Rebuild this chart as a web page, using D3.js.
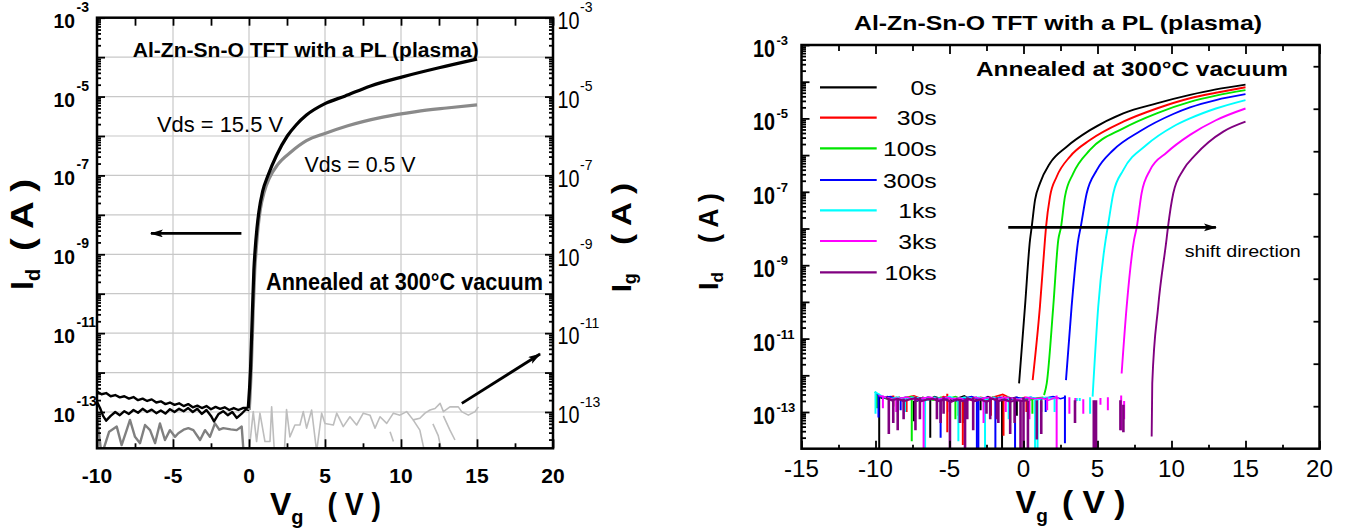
<!DOCTYPE html>
<html>
<head>
<meta charset="utf-8">
<script src="https://cdn.jsdelivr.net/npm/d3@7"></script>
<style>
  body { margin: 0; background: #fff; }
  text { font-family: "Liberation Sans", Arial, sans-serif; }
</style>
</head>
<body>
<svg id="chart" width="1353" height="529"></svg>
<script>
// ---------- data (Vg in volts, currents stored as log10 of amperes) ----------

// left panel: Id / Ig of the AZTO TFT
const idOn155 = [[-0.05,-12.9],[0.1,-11.9],[0.22,-10.5],[0.32,-9.4],[0.4,-8.9],[0.52,-8.35],[0.65,-7.92],[0.9,-7.4],[1.26,-6.99],[1.8,-6.5],[2.52,-6.0],[3.1,-5.72],[3.78,-5.47],[5.0,-5.18],[6.3,-4.99],[8.0,-4.73],[10.1,-4.5],[12.5,-4.27],[15,-4.05]];
const idOn05 = [[0.02,-12.95],[0.15,-11.9],[0.27,-10.5],[0.38,-9.4],[0.47,-8.9],[0.6,-8.3],[0.75,-7.85],[1.0,-7.42],[1.35,-7.06],[1.9,-6.72],[2.78,-6.4],[3.78,-6.12],[5.04,-5.93],[6.5,-5.74],[8.8,-5.52],[11,-5.38],[13,-5.29],[15,-5.21]];
const idOff155 = [[-10,-12.48],[-9.7,-12.55],[-9.4,-12.52],[-9.1,-12.6],[-8.8,-12.57],[-8.5,-12.63],[-8.2,-12.6],[-7.9,-12.66],[-7.6,-12.62],[-7.3,-12.7],[-7.0,-12.66],[-6.7,-12.72],[-6.4,-12.68],[-6.1,-12.76],[-5.8,-12.73],[-5.5,-12.8],[-5.2,-12.76],[-4.9,-12.82],[-4.6,-12.78],[-4.3,-12.85],[-4.0,-12.8],[-3.7,-12.88],[-3.4,-12.84],[-3.1,-12.9],[-2.8,-12.85],[-2.5,-12.93],[-2.2,-12.87],[-1.9,-12.92],[-1.6,-12.88],[-1.3,-12.95],[-1.0,-12.9],[-0.7,-12.95],[-0.4,-12.9],[-0.05,-12.9]];
const idOff05 = [[-10,-12.74],[-9.8,-12.9],[-9.6,-13.1],[-9.4,-13.22],[-9.1,-13.1],[-8.8,-13.0],[-8.5,-13.08],[-8.2,-12.98],[-7.9,-13.05],[-7.6,-12.95],[-7.3,-13.02],[-7.0,-12.92],[-6.7,-13.0],[-6.4,-12.94],[-6.1,-13.03],[-5.8,-12.96],[-5.5,-13.04],[-5.2,-12.93],[-4.9,-13.0],[-4.6,-12.92],[-4.3,-12.98],[-4.0,-12.9],[-3.7,-13.0],[-3.4,-12.92],[-3.1,-13.05],[-2.8,-12.95],[-2.5,-13.1],[-2.3,-13.24],[-2.0,-13.05],[-1.7,-12.98],[-1.4,-13.08],[-1.1,-13.0],[-0.8,-13.15],[-0.5,-13.05],[-0.2,-12.93],[0.02,-12.95]];
const igDark = [[-10,-13.15],[-9.85,-13.6],[-9.7,-14.1],[-9.2,-13.5],[-8.7,-13.37],[-8.38,-13.84],[-8.05,-13.46],[-7.83,-13.2],[-7.5,-13.63],[-7.17,-13.79],[-6.84,-13.33],[-6.51,-13.46],[-6.18,-13.79],[-5.86,-13.29],[-5.53,-13.71],[-5.2,-13.46],[-4.87,-13.63],[-4.65,-13.54],[-4.3,-13.45],[-3.99,-13.41],[-3.66,-13.46],[-3.22,-13.71],[-2.89,-13.46],[-2.57,-13.63],[-2.24,-13.29],[-1.95,-13.45],[-1.69,-13.41],[-1.2,-13.44],[-0.81,-13.46],[-0.48,-13.37],[-0.37,-13.95],[-0.2,-14.2]];
const igLight = [[-0.05,-14.2],[0.28,-12.99],[0.5,-13.75],[0.72,-13.03],[1.05,-13.75],[1.38,-13.75],[1.49,-12.87],[1.7,-14.2],[2.3,-14.2],[2.47,-12.94],[2.69,-13.63],[3.02,-13.33],[3.35,-13.33],[3.57,-12.99],[3.79,-13.41],[4.12,-12.95],[4.45,-14.0],[4.78,-13.03],[5.0,-13.29],[5.55,-13.33],[5.77,-13.03],[6.2,-13.37],[6.64,-13.12],[7.08,-13.33],[7.52,-13.03],[7.96,-13.08],[8.29,-13.41],[8.62,-13.12],[9.06,-13.29],[9.5,-13.03],[9.93,-13.08],[10.37,-12.99],[10.8,-13.2],[11.24,-13.16],[11.58,-13.03],[11.91,-12.95],[12.24,-12.91],[12.57,-12.78],[12.79,-12.99],[13.22,-12.87],[13.77,-12.87],[13.99,-12.99],[14.43,-13.08],[14.87,-12.99],[15.09,-12.87]];
const igLightBits = [
  [[9.28,-13.5],[9.5,-13.75]],
  [[10.8,-13.2],[11.24,-13.46],[11.6,-14.1]],
  [[12.1,-13.3],[12.45,-13.6],[12.79,-14.2]],
  [[12.79,-13.1],[13.22,-13.46],[13.55,-13.71]]
];

// right panel: transfer curves after each stress time
const stressLabels = ["0s", "30s", "100s", "300s", "1ks", "3ks", "10ks"];
const stressColors = ["#000000", "#ff0000", "#00e600", "#0000ff", "#00ffff", "#ff00ff", "#800080"];
const onCurves = [
  [[-0.3,-12.22],[0.1,-10.13],[0.44,-8.31],[0.55,-7.97],[0.78,-7.22],[1.11,-6.77],[1.79,-6.22],[2.92,-5.77],[4.49,-5.32],[6.74,-4.86],[9.0,-4.59],[11.25,-4.36],[13,-4.21],[15,-4.08]],
  [[0.62,-12.13],[1.11,-10.13],[1.45,-8.31],[1.52,-7.97],[1.79,-7.13],[2.24,-6.59],[3.14,-6.04],[4.49,-5.59],[6.74,-5.09],[9.0,-4.73],[11.25,-4.45],[13,-4.3],[15,-4.15]],
  [[1.39,-12.54],[1.57,-12.22],[2.01,-10.13],[2.35,-8.31],[2.53,-7.97],[2.8,-7.13],[3.36,-6.5],[4.49,-5.86],[6.74,-5.27],[9.0,-4.86],[11.25,-4.55],[13,-4.38],[15,-4.23]],
  [[2.87,-12.13],[3.25,-10.13],[3.7,-8.31],[3.86,-7.97],[4.27,-7.04],[4.95,-6.41],[6.07,-5.86],[7.87,-5.35],[10.12,-4.88],[11.25,-4.7],[13,-4.5],[15,-4.34]],
  [[4.67,-12.58],[5.05,-10.13],[5.55,-8.31],[5.69,-7.97],[6.07,-7.04],[6.74,-6.41],[8.32,-5.72],[10.12,-5.22],[11.25,-5.0],[13,-4.73],[15,-4.5]],
  [[6.63,-11.95],[6.97,-10.13],[7.47,-8.31],[7.65,-7.97],[7.98,-7.04],[8.55,-6.41],[9.68,-5.93],[11.25,-5.45],[13,-5.05],[15,-4.73]],
  [[8.66,-13.67],[8.7,-12.22],[9.1,-10.13],[9.66,-8.31],[9.76,-7.97],[10.12,-7.04],[10.8,-6.4],[11.6,-6.0],[12.5,-5.65],[13.5,-5.36],[15,-5.09]]
];
const offBands = [
  [[-10,-12.5],[-9.6,-12.62],[-9.2,-12.58],[-8.8,-12.66],[-8.4,-12.6],[-8.0,-12.68],[-7.6,-12.62],[-7.2,-12.7],[-6.8,-12.6],[-6.4,-12.66],[-6.0,-12.58],[-5.6,-12.64],[-5.2,-12.6],[-4.8,-12.7],[-4.4,-12.62],[-4.0,-12.56],[-3.6,-12.66],[-3.2,-12.6],[-2.8,-12.68],[-2.4,-12.58],[-2.0,-12.64],[-1.6,-12.6],[-1.2,-12.7],[-0.8,-12.62],[-0.4,-12.6]],
  [[-9.9,-12.55],[-9.4,-12.62],[-8.9,-12.58],[-8.4,-12.66],[-7.9,-12.6],[-7.4,-12.56],[-6.9,-12.64],[-6.4,-12.6],[-5.9,-12.68],[-5.4,-12.58],[-4.9,-12.62],[-4.4,-12.66],[-3.9,-12.6],[-3.4,-12.7],[-2.9,-12.6],[-2.4,-12.64],[-1.9,-12.58],[-1.4,-12.52],[-0.9,-12.62],[-0.4,-12.66],[0.1,-12.6],[0.5,-12.64]],
  [[-10.05,-12.45],[-9.6,-12.6],[-9.1,-12.66],[-8.6,-12.6],[-8.1,-12.64],[-7.6,-12.58],[-7.1,-12.66],[-6.6,-12.62],[-6.1,-12.68],[-5.6,-12.6],[-5.1,-12.64],[-4.6,-12.58],[-4.1,-12.66],[-3.6,-12.6],[-3.1,-12.62],[-2.6,-12.7],[-2.1,-12.6],[-1.6,-12.64],[-1.1,-12.6],[-0.6,-12.66],[-0.1,-12.62],[0.4,-12.68],[0.9,-12.62],[1.35,-12.6]],
  [[-10.0,-12.48],[-9.5,-12.62],[-9.0,-12.58],[-8.5,-12.66],[-8.0,-12.6],[-7.5,-12.64],[-7.0,-12.7],[-6.5,-12.6],[-6.0,-12.62],[-5.5,-12.66],[-5.0,-12.6],[-4.5,-12.7],[-4.0,-12.62],[-3.5,-12.58],[-3.0,-12.66],[-2.5,-12.6],[-2.0,-12.64],[-1.5,-12.6],[-1.0,-12.68],[-0.5,-12.6],[0.0,-12.64],[0.5,-12.6],[1.0,-12.66],[1.5,-12.62],[2.0,-12.58],[2.5,-12.64],[2.85,-12.6]],
  [[-10.05,-12.45],[-9.5,-12.58],[-9.0,-12.64],[-8.5,-12.6],[-8.0,-12.66],[-7.5,-12.6],[-7.0,-12.62],[-6.5,-12.68],[-6.0,-12.6],[-5.5,-12.64],[-5.0,-12.58],[-4.5,-12.66],[-4.0,-12.6],[-3.5,-12.62],[-3.0,-12.6],[-2.5,-12.66],[-2.0,-12.6],[-1.5,-12.64],[-1.0,-12.6],[-0.5,-12.66],[0.0,-12.62],[0.5,-12.6],[1.0,-12.66],[1.5,-12.6],[2.0,-12.64],[2.2,-12.62]],
  [[-9.8,-12.55],[-9.3,-12.6],[-8.8,-12.66],[-8.3,-12.62],[-7.8,-12.6],[-7.3,-12.68],[-6.8,-12.62],[-6.3,-12.6],[-5.8,-12.66],[-5.3,-12.6],[-4.8,-12.64],[-4.3,-12.62],[-3.8,-12.7],[-3.3,-12.6],[-2.8,-12.64],[-2.3,-12.6],[-1.8,-12.66],[-1.3,-12.6],[-0.8,-12.62],[-0.3,-12.66],[0.2,-12.6],[0.7,-12.64],[1.2,-12.62],[1.7,-12.68],[2.2,-12.6],[2.4,-12.64]],
  [[-9.3,-12.62],[-8.9,-12.68],[-8.5,-12.64],[-8.1,-12.7],[-7.7,-12.66],[-7.3,-12.62],[-6.9,-12.7],[-6.5,-12.66],[-6.1,-12.64],[-5.7,-12.7],[-5.3,-12.66],[-4.9,-12.72],[-4.5,-12.66],[-4.1,-12.7],[-3.7,-12.64],[-3.3,-12.7],[-2.9,-12.66],[-2.5,-12.72],[-2.1,-12.64],[-1.7,-12.7],[-1.3,-12.66],[-0.9,-12.72],[-0.5,-12.68],[-0.1,-12.7],[0.3,-12.68]]
];
// spikes of the off-state noise: [Vg, top, bottom]
const offSpikes = [
  [[-9.75,-12.6,-14.1],[-7.4,-12.7,-13.25],[-6.3,-12.65,-13.7],[-4.1,-12.7,-13.3],[-2.9,-12.6,-12.95],[-1.45,-12.6,-14.1],[-0.45,-12.6,-13.1]],
  [[-8.8,-12.55,-12.85],[-7.9,-12.6,-13.0],[-5.15,-12.5,-13.55],[-4.1,-12.6,-13.9],[-2.2,-12.6,-13.1],[-1.35,-12.55,-13.65],[0.2,-12.6,-13.0]],
  [[-9.9,-12.5,-12.9],[-7.55,-12.65,-13.8],[-4.6,-12.7,-13.2],[-4.4,-12.6,-13.1],[-1.8,-12.6,-13.0],[-0.9,-12.6,-13.3],[0.6,-12.6,-13.05],[1.2,-12.6,-13.0]],
  [[-9.8,-12.5,-13.15],[-8.3,-12.6,-12.95],[-5.6,-12.7,-13.7],[-3.15,-12.6,-14.1],[-3.05,-12.6,-14.1],[-1.9,-12.6,-14.1],[-0.57,-12.6,-14.1],[1.5,-12.6,-13.0],[2.8,-12.55,-13.85]],
  [[-10.0,-12.45,-13.05],[-8.0,-12.6,-13.0],[-6.65,-12.6,-14.1],[-4.4,-12.6,-13.8],[-2.6,-12.6,-14.1],[-1.0,-12.6,-13.2],[0.78,-12.6,-14.1],[0.95,-12.68,-14.1],[2.1,-12.6,-13.0],[3.6,-12.62,-12.7],[3.8,-12.62,-12.7],[4.5,-12.6,-13.05]],
  [[-9.5,-12.55,-12.9],[-8.6,-12.6,-13.0],[-6.75,-12.6,-14.1],[-5.0,-12.6,-13.0],[-2.7,-12.6,-13.3],[-1.2,-12.6,-13.0],[0.4,-12.6,-13.2],[1.6,-12.6,-12.95],[2.24,-12.55,-14.1],[3.1,-12.6,-13.05],[3.5,-12.62,-12.75],[4.04,-12.65,-13.05],[5.2,-12.62,-12.8],[5.7,-12.6,-12.95],[6.6,-12.55,-13.5],[6.8,-12.7,-13.2]],
  [[-9.1,-12.64,-13.6],[-8.8,-12.64,-13.3],[-8.5,-12.64,-13.5],[-8.1,-12.64,-13.2],[-7.3,-12.6,-13.5],[-7.0,-12.6,-13.2],[-5.85,-12.6,-13.2],[-5.6,-12.68,-13.3],[-5.4,-12.6,-13.05],[-4.97,-12.7,-14.1],[-4.3,-12.65,-13.3],[-3.95,-12.68,-14.1],[-3.8,-12.6,-13.2],[-3.4,-12.6,-13.5],[-2.5,-12.68,-13.05],[-2.25,-12.6,-13.2],[-1.8,-12.6,-13.2],[-1.7,-12.68,-13.3],[-0.9,-12.6,-13.6],[-0.6,-12.6,-13.3],[-0.2,-12.68,-14.1],[0.0,-12.6,-14.1],[0.3,-12.7,-14.1],[0.9,-12.68,-13.75],[1.2,-12.68,-13.6],[3.48,-12.68,-13.3],[4.75,-12.68,-14.1],[4.9,-12.68,-14.1],[6.55,-12.68,-13.5],[6.75,-12.8,-13.55]]
];

// ticks
const xTicksL = [-10, -5, 0, 5, 10, 15, 20];
const xMinorL = [-7.5, -2.5, 2.5, 7.5, 12.5, 17.5];
const xTicksR = [-15, -10, -5, 0, 5, 10, 15, 20];
const xMinorR = [-12.5, -7.5, -2.5, 2.5, 7.5, 12.5, 17.5];
const yLabelExp = [-3, -5, -7, -9, -11, -13];
const rightAxisTicksR = [1, 2, 3, 4, 5, 6, 7, 8, 9];

// annotation arrows, in data units [Vg, log10 I]
const arrowsL = [[[-0.5, -8.47], [-6.45, -8.47]], [[14.0, -12.78], [19.15, -11.53]]];
const arrowR = [[-1.03, -7.97], [13.0, -7.97]];

// ---------- drawing ----------
const svg = d3.select("#chart");
const E = e => Math.pow(10, e);

const xL = d3.scaleLinear().domain([-10, 20]).range([97, 553]);
const yL = d3.scaleLog().domain([1.2e-14, 1e-3]).range([448.3, 17.7]);
const xR = d3.scaleLinear().domain([-15, 20]).range([801.5, 1319.5]);
const yR = d3.scaleLog().domain([1e-14, 1e-3]).range([448.7, 45]);
const yR2 = d3.scaleLinear().domain([0, 9.5]).range([448.7, 45]);

const defs = svg.append("defs");
defs.append("clipPath").attr("id", "clipL").append("rect")
  .attr("x", xL(-10)).attr("y", yL(1e-3)).attr("width", xL(20) - xL(-10)).attr("height", yL(1.2e-14) - yL(1e-3));
defs.append("clipPath").attr("id", "clipR").append("rect")
  .attr("x", xR(-15)).attr("y", yR(1e-3)).attr("width", xR(20) - xR(-15)).attr("height", yR(1e-14) - yR(1e-3));
defs.append("marker").attr("id", "head").attr("markerUnits", "userSpaceOnUse")
  .attr("markerWidth", 14).attr("markerHeight", 10).attr("refX", 12).attr("refY", 4)
  .attr("orient", "auto")
  .append("path").attr("d", "M0,0 L13,4 L0,8 L3,4 Z").attr("fill", "#000");

function txt(g, x, y, s, o = {}) {
  const t = g.append("text")
    .attr("transform", `translate(${x},${y})` + (o.sx ? ` scale(${o.sx},1)` : ""))
    .attr("text-anchor", o.anchor || "start")
    .attr("font-size", o.size || 20)
    .attr("font-weight", o.bold ? "bold" : "normal")
    .attr("fill", "#000")
    .text(s);
  if (o.len) t.attr("textLength", o.len).attr("lengthAdjust", "spacingAndGlyphs");
  return t;
}

function ticks(g, axisFn, scale, vals, size, tr) {
  g.append("g").attr("transform", tr)
    .call(axisFn(scale).tickValues(vals).tickSize(size).tickFormat(""))
    .call(a => a.select(".domain").remove())
    .call(a => a.selectAll("line").attr("stroke", "#000").attr("stroke-width", 1.8));
}

const decadesL = d3.range(-14, -3);
const majorY = d3.range(-13, -2).map(E);
const minorY = [];
decadesL.forEach(k => { for (let m = 2; m <= 9; m++) minorY.push(m * E(k)); });
const minorYL = minorY.filter(v => v > 1.2e-14);

const lineL = d3.line().x(d => xL(d[0])).y(d => yL(E(d[1])));
const smoothL = d3.line().x(d => xL(d[0])).y(d => yL(E(d[1]))).curve(d3.curveMonotoneX);
const lineR = d3.line().x(d => xR(d[0])).y(d => yR(E(d[1])));
const smoothR = d3.line().x(d => xR(d[0])).y(d => yR(E(d[1]))).curve(d3.curveMonotoneX);

// ===== left panel =====
const gL = svg.append("g");
const gridL = gL.append("g").attr("stroke", "#c8c8c8").attr("stroke-width", 1.2);
gridL.selectAll("line.v").data(xTicksL.slice(1, -1)).join("line")
  .attr("x1", d => xL(d)).attr("x2", d => xL(d)).attr("y1", yL(1e-3)).attr("y2", yL(1.2e-14));
gridL.selectAll("line.h").data(d3.range(-13, -3).map(E)).join("line").attr("class", "h")
  .attr("x1", xL(-10)).attr("x2", xL(20)).attr("y1", d => yL(d)).attr("y2", d => yL(d));

const plotL = gL.append("g").attr("clip-path", "url(#clipL)").attr("fill", "none")
  .attr("stroke-linejoin", "round");
plotL.append("path").attr("d", lineL(igLight)).attr("stroke", "#bdbdbd").attr("stroke-width", 1.6);
igLightBits.forEach(b => plotL.append("path").attr("d", lineL(b)).attr("stroke", "#bdbdbd").attr("stroke-width", 1.6));
plotL.append("path").attr("d", lineL(igDark)).attr("stroke", "#808080").attr("stroke-width", 2.4);
plotL.append("path").attr("d", lineL(idOff05)).attr("stroke", "#000").attr("stroke-width", 2.4);
plotL.append("path").attr("d", lineL(idOff155)).attr("stroke", "#000").attr("stroke-width", 2.4);
plotL.append("path").attr("d", smoothL(idOn05)).attr("stroke", "#8a8a8a").attr("stroke-width", 3.2);
plotL.append("path").attr("d", smoothL(idOn155)).attr("stroke", "#000").attr("stroke-width", 3.2);

arrowsL.forEach(a => gL.append("line")
  .attr("x1", xL(a[0][0])).attr("y1", yL(E(a[0][1])))
  .attr("x2", xL(a[1][0])).attr("y2", yL(E(a[1][1])))
  .attr("stroke", "#000").attr("stroke-width", 2.8).attr("marker-end", "url(#head)"));

// frame + ticks
const bL = yL(1.2e-14), tL = yL(1e-3);
ticks(gL, d3.axisBottom, xL, xTicksL, -9, `translate(0,${bL})`);
ticks(gL, d3.axisBottom, xL, xMinorL, -5, `translate(0,${bL})`);
ticks(gL, d3.axisTop, xL, xTicksL.concat(xMinorL), -8, `translate(0,${tL})`);
ticks(gL, d3.axisLeft, yL, majorY, -8, `translate(${xL(-10)},0)`);
ticks(gL, d3.axisLeft, yL, minorYL, -4, `translate(${xL(-10)},0)`);
ticks(gL, d3.axisRight, yL, majorY, -8, `translate(${xL(20)},0)`);
ticks(gL, d3.axisRight, yL, minorYL, -4, `translate(${xL(20)},0)`);
gL.append("rect").attr("x", xL(-10)).attr("y", tL).attr("width", xL(20) - xL(-10)).attr("height", bL - tL)
  .attr("fill", "none").attr("stroke", "#000").attr("stroke-width", 2.5);

xTicksL.forEach(v => txt(gL, xL(v), 483, String(v), { size: 21, bold: true, anchor: "middle" }));
yLabelExp.forEach(e => {
  const y = yL(E(e));
  txt(gL, 75, y + 10, "10", { size: 21, bold: true, anchor: "end", sx: 0.92 });
  txt(gL, 76.5, y - 6, String(e), { size: 14, bold: true });
  txt(gL, 557.5, y + 11.3, "10", { size: 23, sx: 0.86 });
  txt(gL, 580, y - 5.4, String(e), { size: 14 });
});

txt(gL, 132.7, 57.3, "Al-Zn-Sn-O TFT with a PL (plasma)", { size: 20, bold: true, len: 346 });
txt(gL, 157, 131.7, "Vds = 15.5 V", { size: 22, len: 126 });
txt(gL, 304.6, 171.7, "Vds = 0.5 V", { size: 22, len: 111 });
txt(gL, 266, 290, "Annealed at 300\u00B0C vacuum", { size: 23, bold: true, len: 277 });

// axis titles
const vgL = gL.append("text").attr("x", 270).attr("y", 515).attr("font-size", 32).attr("font-weight", "bold");
vgL.append("tspan").text("V");
vgL.append("tspan").attr("font-size", 20).attr("dy", 9).text("g");
vgL.append("tspan").attr("x", 327.6).attr("dy", -9).attr("textLength", 53.4).attr("lengthAdjust", "spacingAndGlyphs").text("( V )");

const idL = gL.append("g").attr("transform", "translate(33,290) rotate(-90)");
const idLt = idL.append("text").attr("font-size", 32).attr("font-weight", "bold");
idLt.append("tspan").text("I");
idLt.append("tspan").attr("font-size", 20).attr("dy", 7).text("d");
idL.append("text").attr("x", 39).attr("font-size", 32).attr("font-weight", "bold")
  .attr("textLength", 72).attr("lengthAdjust", "spacingAndGlyphs").text("( A )");

const igL = gL.append("g").attr("transform", "translate(631,292) rotate(-90)");
const igLt = igL.append("text").attr("font-size", 28).attr("font-weight", "bold");
igLt.append("tspan").text("I");
igLt.append("tspan").attr("font-size", 18).attr("dy", 5).text("g");
igL.append("text").attr("x", 47).attr("font-size", 28).attr("font-weight", "bold")
  .attr("textLength", 62).attr("lengthAdjust", "spacingAndGlyphs").text("( A )");

// ===== right panel =====
const gR = svg.append("g");
const plotR = gR.append("g").attr("clip-path", "url(#clipR)").attr("fill", "none");
stressColors.forEach((c, i) => {
  const w = i === 6 ? 2.2 : 1.6;
  plotR.append("path").attr("d", lineR(offBands[i])).attr("stroke", c).attr("stroke-width", w);
  plotR.selectAll(null).data(offSpikes[i]).join("line")
    .attr("x1", d => xR(d[0])).attr("x2", d => xR(d[0]))
    .attr("y1", d => yR(E(d[1]))).attr("y2", d => yR(E(d[2])))
    .attr("stroke", c).attr("stroke-width", w + 0.4);
});
stressColors.forEach((c, i) => {
  plotR.append("path").attr("d", smoothR(onCurves[i])).attr("stroke", c).attr("stroke-width", 1.9);
});

gR.append("line")
  .attr("x1", xR(arrowR[0][0])).attr("y1", yR(E(arrowR[0][1])))
  .attr("x2", xR(arrowR[1][0])).attr("y2", yR(E(arrowR[1][1])))
  .attr("stroke", "#000").attr("stroke-width", 2.6).attr("marker-end", "url(#head)");

const bR = yR(1e-14), tR = yR(1e-3);
ticks(gR, d3.axisBottom, xR, xTicksR, -8, `translate(0,${bR})`);
ticks(gR, d3.axisBottom, xR, xMinorR, -4, `translate(0,${bR})`);
ticks(gR, d3.axisTop, xR, xTicksR, -9, `translate(0,${tR})`);
ticks(gR, d3.axisTop, xR, xMinorR, -6, `translate(0,${tR})`);
ticks(gR, d3.axisLeft, yR, majorY, -8, `translate(${xR(-15)},0)`);
ticks(gR, d3.axisLeft, yR, minorY, -4.5, `translate(${xR(-15)},0)`);
ticks(gR, d3.axisRight, yR2, rightAxisTicksR, -6, `translate(${xR(20)},0)`);
gR.append("rect").attr("x", xR(-15)).attr("y", tR).attr("width", xR(20) - xR(-15)).attr("height", bR - tR)
  .attr("fill", "none").attr("stroke", "#000").attr("stroke-width", 2.5);

xTicksR.forEach(v => txt(gR, xR(v), 476.7, String(v), { size: 23, anchor: "middle", sx: 1.05 }));
yLabelExp.forEach(e => {
  const y = yR(E(e));
  txt(gR, 775, y + 12, "10", { size: 23, bold: true, anchor: "end", sx: 0.86 });
  txt(gR, 776.5, y, String(e), { size: 13, bold: true });
});

// legend
const legY = [87.3, 117.7, 148.3, 180, 210.3, 241, 272.3];
stressLabels.forEach((s, i) => {
  gR.append("line").attr("x1", 820).attr("x2", 876.7).attr("y1", legY[i]).attr("y2", legY[i])
    .attr("stroke", stressColors[i]).attr("stroke-width", 2.2);
  txt(gR, 936.7, legY[i] + 7.7, s, { size: 21, anchor: "end", sx: 1.18 });
});

txt(gR, 854, 30, "Al-Zn-Sn-O TFT with a PL (plasma)", { size: 21, bold: true, len: 408 });
txt(gR, 976, 76, "Annealed at 300\u00B0C vacuum", { size: 20, bold: true, len: 312 });
txt(gR, 1184.7, 256.7, "shift direction", { size: 16, len: 116 });

const vgR = gR.append("text").attr("x", 1015.6).attr("y", 513.3).attr("font-size", 31).attr("font-weight", "bold");
vgR.append("tspan").text("V");
vgR.append("tspan").attr("font-size", 19).attr("dy", 9).text("g");
vgR.append("tspan").attr("x", 1062).attr("dy", -9).attr("textLength", 63.5).attr("lengthAdjust", "spacingAndGlyphs").text("( V )");

const idR = gR.append("g").attr("transform", "translate(717.5,290) rotate(-90)");
const idRt = idR.append("text").attr("font-size", 27).attr("font-weight", "bold");
idRt.append("tspan").text("I");
idRt.append("tspan").attr("font-size", 17).attr("dy", 5).text("d");
idR.append("text").attr("x", 47).attr("font-size", 27).attr("font-weight", "bold")
  .attr("textLength", 50).attr("lengthAdjust", "spacingAndGlyphs").text("( A )");
</script>
</body>
</html>
